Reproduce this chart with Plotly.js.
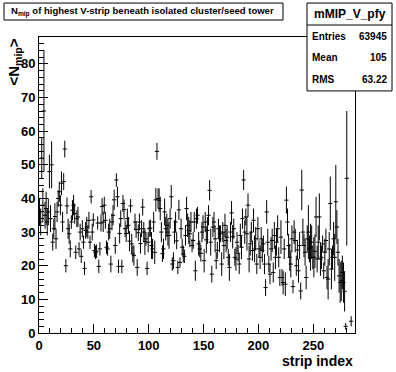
<!DOCTYPE html>
<html>
<head>
<meta charset="utf-8">
<script src="https://cdn.plot.ly/plotly-3.0.1.min.js"></script>
<style>html,body{margin:0;padding:0;background:#fff;}#chart{width:396px;height:372px;}</style>
</head>
<body>
<div id="chart"></div>
<script>
// N_mip profile: mean per strip (null = empty bin) and its error
const meanN = [
  36, 33, 52, 38, 66, 35, 37, 33, 36, 48,
  34, 50, 27, 31, 34.6, 28, 36, 40, 42, 38,
  44.5, 33, 45, 54.7, 20, 37.8, 31, 29.5, 25, 33,
  36.5, 38, 35.5, 24, 34, 34.5, 25, 30, 22.8, 31,
  27, 19.2, 30.5, 31.5, 30, 33.5, 27, 40.5, 30, 33.6,
  24.5, 24, 24.3, 32.7, 19.8, 25, 32.7, 37.6, 33, 38,
  33.5, 25.5, 25, 30, 31, 20.5, 33, 35, 39.6, 26,
  45.5, 40.5, 19.8, 29.6, 34, 19.8, 38.5, 36.7, 31, 29.6,
  34, 32, 27.3, 37.8, 26.5, 23.5, 23, 33, 30.8, 19.5,
  29.8, 33, 26.6, 31, 37.4, 30, 27.2, 28, 19.2, 27,
  31, 31.2, 26, 25, 33, 24, 39.6, 54, 40, 39.5,
  37, 30, 23.6, 25, 36, 31, 32, 30, 29, 34,
  40.5, 20.5, 21.5, 30, 33, 27.4, 19.5, 36.6, 21, 31,
  25.5, 23.5, 22.8, 29, 37, 32, 30.5, 29.5, 33, 26,
  27.5, 33, 18.5, 34, 35, 26.5, 25, 23.7, 30, 31.5,
  21.5, 33, 27.7, 30.5, 35, 42.4, 27, 17.5, 31.5, 33,
  28, 21.5, 24.6, 31, 28, 29.5, 20.5, 30, 26, 32,
  27.5, 28.5, 22.5, 19.5, 30, 35.7, 28.6, 31, 22.5, 22,
  27, 23.7, 20.5, 29, 25.5, 34, 45.5, 30, 34.5, 29.5,
  38, 22, 26.5, 30, 24.5, 33.5, 25, 28, 20.5, 31,
  25, 22.5, 28, 24.5, 26.5, 20.5, 13.5, 36, 27, 20.5,
  17.5, 25, 27.5, 18, 29, 22.5, 27, 31, 22.5, 16.5,
  28.5, 16.5, 15, 25, 14.5, 39.5, 33, 26, 22.5, 20.5,
  28, 13.8, 30, 27.5, 20, 24.7, 18.5, 26, 12.5, 42.5,
  30, 26, 24, 16.5, 28, 30, 25, 25.5, 27, 22.5,
  22.5, 24.3, 34.5, 22, 27, 34.5, 22, 22.5, 26.5, 18.5,
  24, 27.5, 16.5, 16, 25, 38.5, 19, 22.5, 28, 22.5,
  39, 31.5, 24, 17, 15, 15.5, 18, 15, 12.4, 2,
  46, null, null, null, 3.5, null, null, null
];
const errN = [
  4, 4, 6, 5, 18, 4, 5, 4, 4, 5,
  4, 7, 2.5, 3, 4, 3, 3, 2.5, 3, 3,
  3.5, 3, 2.5, 2.5, 2, 2.5, 3, 3, 2.5, 2,
  3, 3, 3, 2, 2.5, 3, 2, 2.5, 2, 2.5,
  2, 2, 2.5, 3, 2, 2.5, 2, 2, 2.5, 2,
  2, 2, 2, 2, 2, 2, 2.5, 2.5, 3, 2.5,
  2.5, 2, 2, 2.5, 3, 2.5, 2.5, 3, 3, 2.5,
  2, 3, 2, 3, 2.5, 2, 2.5, 3, 2.5, 2.5,
  3, 2.5, 3, 2, 3, 2.5, 3, 2.5, 2.5, 2.5,
  2.5, 2.5, 3, 2.5, 2.5, 3, 4, 2, 2, 3,
  2.5, 2.5, 4, 3, 3, 3.5, 3.5, 2.5, 3, 3.5,
  3.5, 3, 2.5, 3, 4, 3.5, 3.5, 4, 4, 3,
  3.5, 2, 2.5, 3.5, 3, 2.5, 2, 3, 1.5, 3,
  2.5, 2.5, 2, 3, 3.5, 3.5, 4, 4, 3, 2,
  2.5, 3, 3, 3, 2.5, 3.5, 2.5, 2.5, 3, 3.5,
  3.5, 3, 4, 4, 3, 3, 4, 2.5, 3, 3,
  4, 2.5, 2.5, 3, 4, 2.5, 3.5, 3, 4, 3.5,
  3.5, 3.5, 2.5, 4, 3, 3.5, 3.5, 3, 2.5, 3.5,
  3, 2.5, 3, 3.5, 3.5, 3, 3, 3.5, 2.5, 5,
  3.5, 4, 3.5, 3, 3, 3.5, 4, 3.5, 3, 3.5,
  2.5, 3.5, 3.5, 3.5, 2.5, 3, 2.5, 3.5, 4, 2.5,
  3, 3.5, 3.5, 3, 4, 3.5, 4, 4, 3, 2.5,
  5, 2.5, 3.5, 3, 3.5, 4, 4, 3.5, 4, 4,
  4, 2, 3.5, 3.5, 3, 3, 3.5, 4, 2.5, 6,
  4, 3.5, 4, 3.5, 4, 8, 4, 7, 5, 3.5,
  6, 5, 6, 4, 5, 7, 5, 3.5, 2.5, 2.5,
  4, 3.5, 3.5, 6, 5, 8, 6, 3.5, 5, 7,
  11, 5, 4, 5, 6, 6, 5, 6, 6, 1,
  20, null, null, null, 1.5, null, null, null
];
const nStrips = 288;
const stripIndex = meanN.map((_, i) => i + 0.5);

const histName = "mMIP_V_pfy";
const statLabels = ["Entries", "Mean", "RMS"];
const statValues = ["63945", "105", "63.22"];
const titleText = "N<sub>mip</sub> of highest V-strip beneath isolated cluster/seed tower";
const xTitle = "strip index";
const yTitle = "&lt;N<sub>mip</sub>&gt;";

// geometry (pixels)
const W = 396, H = 372;
const L = 39, R = 355, T = 37, B = 333.5;
const px = x => (x - L) / (R - L);
const py = y => (B - y) / (B - T);

const FONT = "Liberation Sans, Arial, Helvetica, sans-serif";

const trace = {
  type: "scatter",
  mode: "markers",
  x: stripIndex,
  y: meanN,
  marker: { symbol: "line-ew", size: 3, color: "black", line: { color: "black", width: 1 } },
  error_y: { type: "data", array: errN, visible: true, width: 0, thickness: 1, color: "black" },
  hoverinfo: "x+y",
  showlegend: false
};

const axisCommon = {
  showline: true, mirror: true, linecolor: "black", linewidth: 1,
  ticks: "inside", tickcolor: "black", tickwidth: 1, ticklen: 9,
  showgrid: false, zeroline: false, fixedrange: true,
  tickfont: { family: FONT, size: 13, color: "black", weight: "bold" }
};

const layout = {
  width: W, height: H,
  margin: { l: L, r: W - R, t: T, b: H - B },
  paper_bgcolor: "white", plot_bgcolor: "white",
  showlegend: false,
  xaxis: Object.assign({}, axisCommon, {
    range: [0, nStrips], tick0: 0, dtick: 50,
    minor: { dtick: 10, ticklen: 5, ticks: "inside", tickcolor: "black", tickwidth: 1, showgrid: false }
  }),
  yaxis: Object.assign({}, axisCommon, {
    range: [0, 88], tick0: 0, dtick: 10,
    minor: { dtick: 2, ticklen: 5, ticks: "inside", tickcolor: "black", tickwidth: 1, showgrid: false }
  }),
  shapes: [
    // title box
    { type: "rect", xref: "paper", yref: "paper", x0: px(4), x1: px(283), y0: py(20), y1: py(3),
      line: { color: "black", width: 1 }, fillcolor: "white", layer: "above" },
    // stats box
    { type: "rect", xref: "paper", yref: "paper", x0: px(307), x1: px(392), y0: py(91), y1: py(3),
      line: { color: "black", width: 1 }, fillcolor: "white", layer: "above" },
    { type: "line", xref: "paper", yref: "paper", x0: px(307), x1: px(392), y0: py(25), y1: py(25),
      line: { color: "black", width: 1 }, layer: "above" }
  ],
  annotations: [
    { xref: "paper", yref: "paper", x: px(142), y: py(11.5), text: titleText, showarrow: false,
      xanchor: "center", yanchor: "middle", font: { family: FONT, size: 9.5, color: "black", weight: "bold" } },
    { xref: "paper", yref: "paper", x: px(349.5), y: py(14), text: histName, showarrow: false,
      xanchor: "center", yanchor: "middle", font: { family: FONT, size: 12, color: "black", weight: "bold" } },
    { xref: "paper", yref: "paper", x: px(355), y: py(362), text: xTitle, showarrow: false,
      xanchor: "right", yanchor: "middle", font: { family: FONT, size: 14, color: "black", weight: "bold" } },
    { xref: "paper", yref: "paper", x: px(14), y: py(37), text: yTitle, showarrow: false, textangle: -90,
      xanchor: "center", yanchor: "top", font: { family: FONT, size: 15, color: "black", weight: "bold" } }
  ]
};

const statY = [36, 58, 80];
statLabels.forEach((lab, i) => {
  layout.annotations.push({ xref: "paper", yref: "paper", x: px(310), y: py(statY[i]), text: lab, showarrow: false,
    xanchor: "left", yanchor: "middle", font: { family: FONT, size: 10, color: "black", weight: "bold" } });
  layout.annotations.push({ xref: "paper", yref: "paper", x: px(389), y: py(statY[i]), text: statValues[i], showarrow: false,
    xanchor: "right", yanchor: "middle", font: { family: FONT, size: 10, color: "black", weight: "bold" } });
});

Plotly.newPlot("chart", [trace], layout, { staticPlot: true, displayModeBar: false });
</script>
</body>
</html>
